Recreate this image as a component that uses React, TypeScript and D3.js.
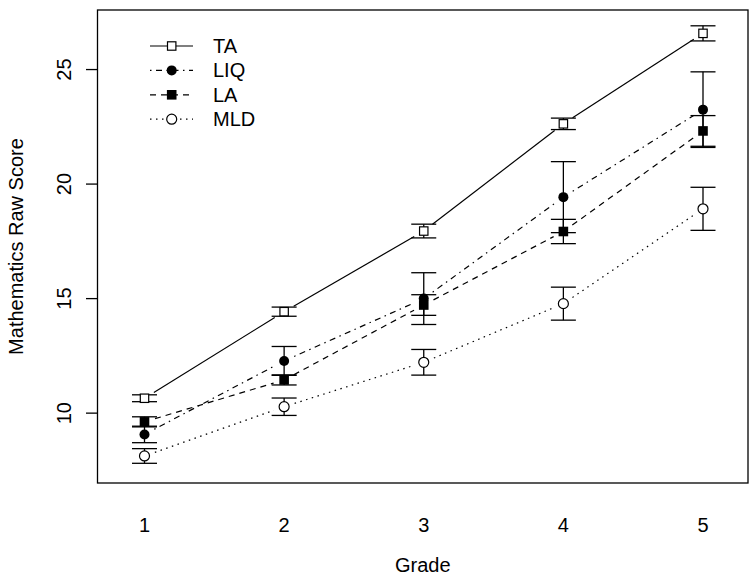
import React from "react";
import * as d3 from "d3";

const grades = [1, 2, 3, 4, 5];
const groups = ["TA", "LIQ", "LA", "MLD"];
const taMean = [10.65, 14.43, 17.95, 22.63, 26.58];
const taErr = [0.15, 0.2, 0.3, 0.25, 0.33];
const liqMean = [9.07, 12.28, 15.0, 19.43, 23.25];
const liqErr = [0.36, 0.63, 1.13, 1.55, 1.65];
const laMean = [9.62, 11.45, 14.72, 17.93, 22.32];
const laErr = [0.22, 0.22, 0.45, 0.53, 0.67];
const mldMean = [8.13, 10.28, 12.22, 14.78, 18.92];
const mldErr = [0.32, 0.38, 0.56, 0.72, 0.94];
const yTicks = [10, 15, 20, 25];

const W = 754, H = 579;
const L = 97.5, R = 748, T = 10, B = 483;
const FONT = "Liberation Sans, Arial, Helvetica, sans-serif";
const FS = 20;

type Series = { name: string; mean: number[]; err: number[]; dash: string; sym: "osq" | "fcirc" | "fsq" | "ocirc" };
const series: Series[] = [
  { name: groups[0], mean: taMean, err: taErr, dash: "", sym: "osq" },
  { name: groups[1], mean: liqMean, err: liqErr, dash: "1.5,4.5,6,4.5", sym: "fcirc" },
  { name: groups[2], mean: laMean, err: laErr, dash: "6,5", sym: "fsq" },
  { name: groups[3], mean: mldMean, err: mldErr, dash: "1.5,4.5", sym: "ocirc" },
];

const x = d3.scaleLinear().domain([1, 5]).range([144.5, 703]);
const y = d3.scaleLinear().domain([6.95, 27.6]).range([B, T]);

function Symbol({ cx, cy, sym }: { cx: number; cy: number; sym: string }) {
  if (sym === "osq") return <rect x={cx - 4.2} y={cy - 4.2} width={8.4} height={8.4} fill="#fff" stroke="#000" strokeWidth={1.2} />;
  if (sym === "fsq") return <rect x={cx - 4.8} y={cy - 4.8} width={9.6} height={9.6} fill="#000" />;
  if (sym === "fcirc") return <circle cx={cx} cy={cy} r={5} fill="#000" />;
  return <circle cx={cx} cy={cy} r={5} fill="#fff" stroke="#000" strokeWidth={1.2} />;
}

export default function App() {
  const gap = 11;
  return (
    <svg width={W} height={H} style={{ display: "block", position: "absolute", left: 0, top: 0 }} fontFamily={FONT}>
      <rect width={W} height={H} fill="#fff" />
      {series.map((s) =>
        grades.slice(0, -1).map((g, i) => {
          const x1 = x(g), y1 = y(s.mean[i]), x2 = x(grades[i + 1]), y2 = y(s.mean[i + 1]);
          const len = Math.hypot(x2 - x1, y2 - y1);
          const ux = (x2 - x1) / len, uy = (y2 - y1) / len;
          return (
            <line key={s.name + g} x1={x1 + ux * gap} y1={y1 + uy * gap} x2={x2 - ux * gap} y2={y2 - uy * gap}
              stroke="#000" strokeWidth={1.2} strokeDasharray={s.dash} />
          );
        })
      )}
      {series.map((s) =>
        grades.map((g, i) => {
          const cx = x(g), top = y(s.mean[i] + s.err[i]), bot = y(s.mean[i] - s.err[i]);
          return (
            <g key={"e" + s.name + g} stroke="#000" strokeWidth={1.3}>
              <line x1={cx} x2={cx} y1={top} y2={bot} />
              <line x1={cx - 12.5} x2={cx + 12.5} y1={top} y2={top} />
              <line x1={cx - 12.5} x2={cx + 12.5} y1={bot} y2={bot} />
            </g>
          );
        })
      )}
      {series.map((s) => grades.map((g, i) => <Symbol key={"p" + s.name + g} cx={x(g)} cy={y(s.mean[i])} sym={s.sym} />))}
      <rect x={L} y={T} width={R - L} height={B - T} fill="none" stroke="#000" strokeWidth={1.3} />
      {yTicks.map((t) => (
        <g key={"yt" + t}>
          <line x1={L - 11.5} x2={L} y1={y(t)} y2={y(t)} stroke="#000" strokeWidth={1.3} />
          <text transform={`translate(64,${y(t)}) rotate(-90)`} textAnchor="middle" dominantBaseline="central" fontSize={FS}>{t}</text>
        </g>
      ))}
      {grades.map((g) => (
        <text key={"xl" + g} x={x(g)} y={532} textAnchor="middle" fontSize={FS}>{g}</text>
      ))}
      <text x={(L + R) / 2} y={572} textAnchor="middle" fontSize={FS}>Grade</text>
      <text transform={`translate(16,${(T + B) / 2}) rotate(-90)`} textAnchor="middle" dominantBaseline="central" fontSize={FS}>Mathematics Raw Score</text>
      {series.map((s, i) => {
        const ly = 46 + i * 24.4;
        return (
          <g key={"lg" + s.name}>
            <line x1={150} x2={193} y1={ly} y2={ly} stroke="#000" strokeWidth={1.2} strokeDasharray={s.dash} />
            <Symbol cx={171.7} cy={ly} sym={s.sym} />
            <text x={213} y={ly} dominantBaseline="central" fontSize={FS}>{s.name}</text>
          </g>
        );
      })}
    </svg>
  );
}
